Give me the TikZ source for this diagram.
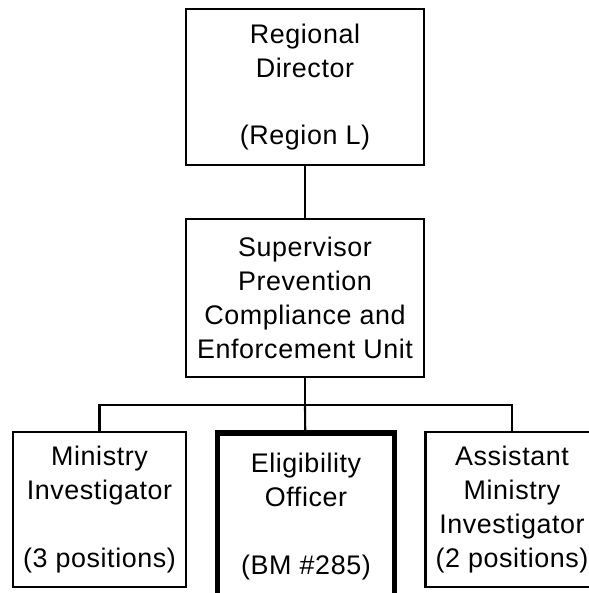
\documentclass[tikz,border=0pt]{standalone}
\usepackage{fontspec}
\setmainfont[LetterSpace=2.2]{Liberation Sans}
\usetikzlibrary{positioning}

\begin{document}
\begin{tikzpicture}[x=0.02cm,y=-0.02cm,
  post/.style={draw=black,line width=1.2pt,align=center,inner sep=0pt,
    font=\fontsize{15.3}{19.3}\selectfont},
  postbig/.style={post,line width=3.2pt},
  link/.style={draw=black,line width=1.2pt}]

% Page frame
\useasboundingbox (0,0) rectangle (589,593);

% Top of the chart
\node[post,minimum width=4.76cm,minimum height=3.12cm] (director) at (305,87)
  {Regional\\Director\\[19.3pt](Region L)};

% Unit supervisor
\node[post,minimum width=4.76cm,minimum height=3.16cm] (super) at (305,298)
  {Supervisor\\Prevention\\Compliance and\\Enforcement Unit};

% Staff row
\node[post,minimum width=3.46cm,minimum height=3.1cm] (investigator) at (99.5,509.5)
  {Ministry\\Investigator\\[19.3pt](3 positions)};
\node[postbig,minimum width=3.54cm,minimum height=3.34cm] (officer) at (306,516.5)
  {Eligibility\\Officer\\[19.3pt](BM \#285)};
\node[post,minimum width=3.46cm,minimum height=3.1cm] (assistant) at (512,509.5)
  {Assistant\\Ministry\\Investigator\\(2 positions)};

% Branch point
\coordinate (split) at (305,405);

% Connectors
\draw[link] (director) -- (super);
\draw[link] (super) -- (split);
\draw[link] (split) -- (officer);
\draw[link] (investigator) |- (split) -| (assistant);

\end{tikzpicture}
\end{document}
